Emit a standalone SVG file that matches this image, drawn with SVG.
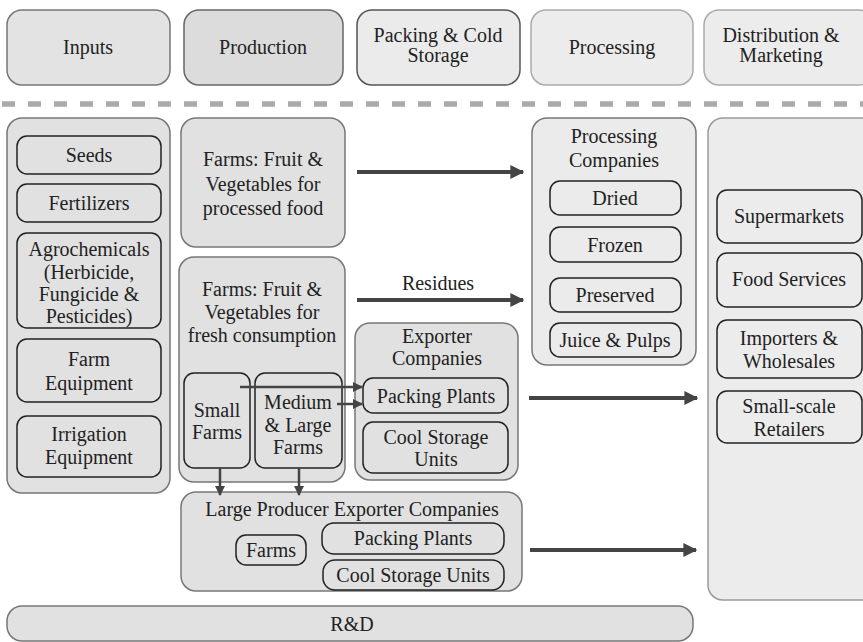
<svg xmlns="http://www.w3.org/2000/svg" width="863" height="642" viewBox="0 0 863 642" font-family="'Liberation Serif', 'Times New Roman', 'DejaVu Serif', serif">
  <defs>
    <style>
      text { font-family: 'Liberation Serif', 'Times New Roman', 'DejaVu Serif', 'Noto Serif', serif; font-size: 20px; fill: #222; text-anchor: middle; }
      .hdr { stroke-width: 1.5; }
      .outer { fill: #e1e1e1; stroke: #777; stroke-width: 1.5; }
      .light { fill: #ececec; stroke: #999; stroke-width: 1.5; }
      .inner { fill: none; stroke: #222; stroke-width: 1.5; }
      .flow { stroke: #444; stroke-width: 4; fill: none; }
      .thin { stroke: #444; stroke-width: 2.5; fill: none; }
      .sep { stroke: #aaa; stroke-width: 5.5; stroke-dasharray: 13 13; }
    </style>
    <marker id="arrow" viewBox="0 0 10 10" refX="9" refY="5" markerWidth="4.5" markerHeight="3.5" orient="auto" markerUnits="strokeWidth">
      <path d="M0,0 L10,5 L0,10 z" fill="#444"/>
    </marker>
    <marker id="arrowSm" viewBox="0 0 10 10" refX="9" refY="5" markerWidth="5" markerHeight="4" orient="auto" markerUnits="strokeWidth">
      <path d="M0,0 L10,5 L0,10 z" fill="#444"/>
    </marker>
  </defs>

  <!-- Stage headers -->
  <g id="hdr-inputs">
    <rect x="7" y="10" width="163" height="75" rx="15" fill="#e3e3e3" stroke="#777" class="hdr"/>
    <text x="88" y="54">Inputs</text>
  </g>
  <g id="hdr-production">
    <rect x="184" y="10" width="159" height="75" rx="15" fill="#dcdcdc" stroke="#666" class="hdr"/>
    <text x="263" y="54">Production</text>
  </g>
  <g id="hdr-packing">
    <rect x="357" y="10" width="163" height="75" rx="15" fill="#ebebeb" stroke="#555" class="hdr"/>
    <text x="438" y="42">Packing &amp; Cold</text>
    <text x="438" y="62">Storage</text>
  </g>
  <g id="hdr-processing">
    <rect x="531" y="10" width="162" height="75" rx="15" fill="#ececec" stroke="#aaa" class="hdr"/>
    <text x="612" y="54">Processing</text>
  </g>
  <g id="hdr-distribution">
    <rect x="704" y="10" width="170" height="75" rx="15" fill="#ececec" stroke="#aaa" class="hdr"/>
    <text x="781" y="42">Distribution &amp;</text>
    <text x="781" y="62">Marketing</text>
  </g>

  <line class="sep" x1="2" y1="104" x2="863" y2="104"/>

  <!-- Inputs column -->
  <g id="inputs">
    <rect class="outer" x="7" y="118" width="163" height="375" rx="15"/>
    <g id="seeds">
      <rect class="inner" x="17" y="136" width="144" height="38" rx="10"/>
      <text x="89" y="162">Seeds</text>
    </g>
    <g id="fertilizers">
      <rect class="inner" x="17" y="184" width="144" height="38" rx="10"/>
      <text x="89" y="210">Fertilizers</text>
    </g>
    <g id="agrochemicals">
      <rect class="inner" x="17" y="233" width="144" height="95" rx="10"/>
      <text x="89" y="256">Agrochemicals</text>
      <text x="89" y="279">(Herbicide,</text>
      <text x="89" y="301">Fungicide &amp;</text>
      <text x="89" y="323">Pesticides)</text>
    </g>
    <g id="farm-equipment">
      <rect class="inner" x="17" y="339" width="144" height="63" rx="10"/>
      <text x="89" y="366">Farm</text>
      <text x="89" y="390">Equipment</text>
    </g>
    <g id="irrigation-equipment">
      <rect class="inner" x="17" y="416" width="144" height="61" rx="10"/>
      <text x="89" y="441">Irrigation</text>
      <text x="89" y="464">Equipment</text>
    </g>
  </g>

  <!-- Production -->
  <g id="farms-processed">
    <rect class="outer" x="181" y="118" width="164" height="129" rx="15"/>
    <text x="263" y="166">Farms: Fruit &amp;</text>
    <text x="263" y="191">Vegetables for</text>
    <text x="263" y="215">processed food</text>
  </g>
  <g id="farms-fresh">
    <rect class="outer" x="179" y="257" width="166" height="225" rx="15"/>
    <text x="262" y="296">Farms: Fruit &amp;</text>
    <text x="262" y="319">Vegetables for</text>
    <text x="262" y="342">fresh consumption</text>
    <g id="small-farms">
      <rect class="inner" x="184" y="373" width="66" height="95" rx="10"/>
      <text x="217" y="417">Small</text>
      <text x="217" y="439">Farms</text>
    </g>
    <g id="medium-large-farms">
      <rect class="inner" x="255" y="373" width="87" height="95" rx="10"/>
      <text x="298" y="409">Medium</text>
      <text x="298" y="432">&amp; Large</text>
      <text x="298" y="454">Farms</text>
    </g>
  </g>

  <!-- Packing & cold storage -->
  <g id="exporter-companies">
    <rect class="outer" x="355" y="323" width="163" height="157" rx="15"/>
    <text x="437" y="343">Exporter</text>
    <text x="437" y="365">Companies</text>
    <g id="packing-plants">
      <rect class="inner" x="363" y="378" width="145" height="35" rx="10"/>
      <text x="436" y="403">Packing Plants</text>
    </g>
    <g id="cool-storage">
      <rect class="inner" x="363" y="422" width="145" height="51" rx="10"/>
      <text x="436" y="444">Cool Storage</text>
      <text x="436" y="466">Units</text>
    </g>
  </g>

  <g id="large-producers">
    <rect class="outer" x="181" y="492" width="341" height="99" rx="15"/>
    <text x="352" y="516">Large Producer Exporter Companies</text>
    <g id="lp-farms">
      <rect class="inner" x="236" y="535" width="70" height="30" rx="10"/>
      <text x="271" y="557">Farms</text>
    </g>
    <g id="lp-packing">
      <rect class="inner" x="322" y="523" width="182" height="31" rx="12"/>
      <text x="413" y="545">Packing Plants</text>
    </g>
    <g id="lp-cool-storage">
      <rect class="inner" x="323" y="560" width="181" height="30" rx="12"/>
      <text x="413" y="582">Cool Storage Units</text>
    </g>
  </g>

  <!-- Processing -->
  <g id="processing-companies">
    <rect class="outer" x="532" y="118" width="164" height="247" rx="15" style="fill:#ebebeb"/>
    <text x="614" y="143">Processing</text>
    <text x="614" y="167">Companies</text>
    <g id="dried">
      <rect class="inner" x="550" y="181" width="131" height="34" rx="10"/>
      <text x="615" y="205">Dried</text>
    </g>
    <g id="frozen">
      <rect class="inner" x="550" y="227" width="131" height="35" rx="10"/>
      <text x="615" y="252">Frozen</text>
    </g>
    <g id="preserved">
      <rect class="inner" x="550" y="278" width="131" height="34" rx="10"/>
      <text x="615" y="302">Preserved</text>
    </g>
    <g id="juice-pulps">
      <rect class="inner" x="550" y="323" width="131" height="34" rx="10"/>
      <text x="615" y="347">Juice &amp; Pulps</text>
    </g>
  </g>

  <!-- Distribution & marketing -->
  <g id="distribution">
    <rect class="light" x="708" y="118" width="170" height="482" rx="15"/>
    <g id="supermarkets">
      <rect class="inner" x="717" y="190" width="145" height="53" rx="10"/>
      <text x="789" y="223">Supermarkets</text>
    </g>
    <g id="food-services">
      <rect class="inner" x="717" y="253" width="145" height="54" rx="10"/>
      <text x="789" y="286">Food Services</text>
    </g>
    <g id="importers">
      <rect class="inner" x="717" y="320" width="145" height="58" rx="10"/>
      <text x="789" y="345">Importers &amp;</text>
      <text x="789" y="368">Wholesales</text>
    </g>
    <g id="retailers">
      <rect class="inner" x="717" y="391" width="145" height="52" rx="10"/>
      <text x="789" y="413">Small-scale</text>
      <text x="789" y="436">Retailers</text>
    </g>
  </g>

  <!-- Research -->
  <g id="rnd">
    <rect class="outer" x="7" y="606" width="686" height="35" rx="15"/>
    <text x="352" y="631">R&amp;D</text>
  </g>

  <!-- Connectors -->
  <g id="connectors">
    <line class="flow" x1="357" y1="172" x2="523" y2="172" marker-end="url(#arrow)"/>
    <line class="flow" x1="357" y1="300" x2="523" y2="300" marker-end="url(#arrow)"/>
    <text x="438" y="290">Residues</text>
    <line class="flow" x1="529" y1="398" x2="697" y2="398" marker-end="url(#arrow)"/>
    <line class="flow" x1="530" y1="550" x2="696" y2="550" marker-end="url(#arrow)"/>
    <line class="thin" x1="240" y1="387" x2="362" y2="387" marker-end="url(#arrowSm)"/>
    <line class="thin" x1="337" y1="404" x2="362" y2="404" marker-end="url(#arrowSm)"/>
    <line class="thin" x1="220" y1="468" x2="220" y2="495" marker-end="url(#arrowSm)"/>
    <line class="thin" x1="299" y1="468" x2="299" y2="495" marker-end="url(#arrowSm)"/>
  </g>
</svg>
